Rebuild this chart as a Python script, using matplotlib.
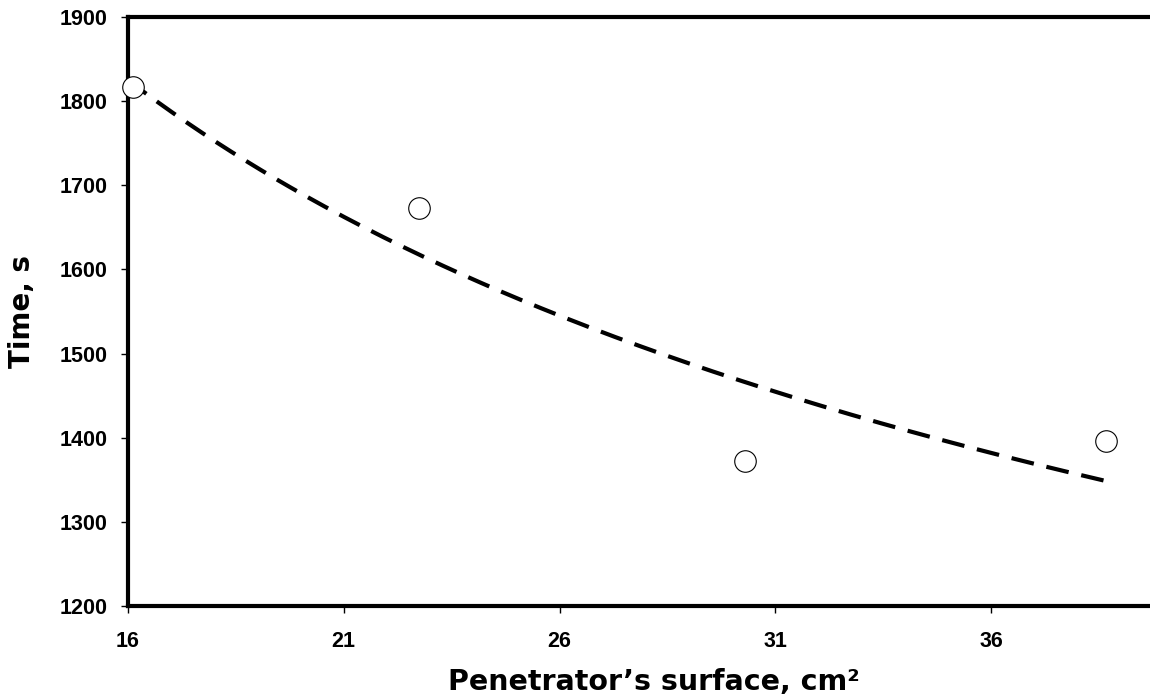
import numpy as np
import matplotlib.pyplot as plt

surface = [16.12, 22.74, 30.3, 38.67]   # cm^2
time_s = [1817, 1673, 1372, 1396]

xticks = [16, 21, 26, 31, 36]
yticks = [1200, 1300, 1400, 1500, 1600, 1700, 1800, 1900]

# power trendline (Excel style: fit in log-log space)
b, lna = np.polyfit(np.log(surface), np.log(time_s), 1)
xs = np.linspace(16, max(surface), 200)
ys = np.exp(lna) * xs ** b

fig = plt.figure(figsize=(11.5, 6.99), dpi=100)
ax = fig.add_axes([128 / 1150, 1 - 606 / 699, 1 - 128 / 1150, (606 - 17) / 699])

ax.plot(xs, ys, color='black', lw=3, ls=(0, (5.5, 3.1)), zorder=2)
ax.plot(surface, time_s, 'o', ms=15.5, mfc='white', mec='black', mew=0.8,
        zorder=3, clip_on=False)

ax.set_xlim(16, 16 + (1150 - 128) / 43.15)
ax.set_ylim(1200, 1900)
ax.set_xticks(xticks)
ax.set_yticks(yticks)

for side in ['left', 'top', 'bottom']:
    ax.spines[side].set_linewidth(3)
ax.spines['right'].set_visible(False)

ax.tick_params(direction='out', length=5, width=1)
ax.tick_params(axis='y', pad=10)
ax.tick_params(axis='x', pad=13)
for lbl in ax.get_xticklabels() + ax.get_yticklabels():
    lbl.set_fontfamily('Liberation Sans')
    lbl.set_fontweight('bold')
    lbl.set_fontsize(15.5)

ax.set_xlabel('Penetrator\u2019s surface, cm\u00b2', fontsize=20.5,
              fontweight='bold', family='DejaVu Sans')
ax.set_ylabel('Time, s', fontsize=20, fontweight='bold', family='DejaVu Sans')
ax.xaxis.set_label_coords((654 - 128) / 1022, (606 - 682) / 589)
ax.xaxis.label.set_va('center')
ax.yaxis.set_label_coords((22 - 128) / 1022, (606 - 311) / 589)
ax.yaxis.label.set_va('center')

fig.savefig('out.png', dpi=100)
